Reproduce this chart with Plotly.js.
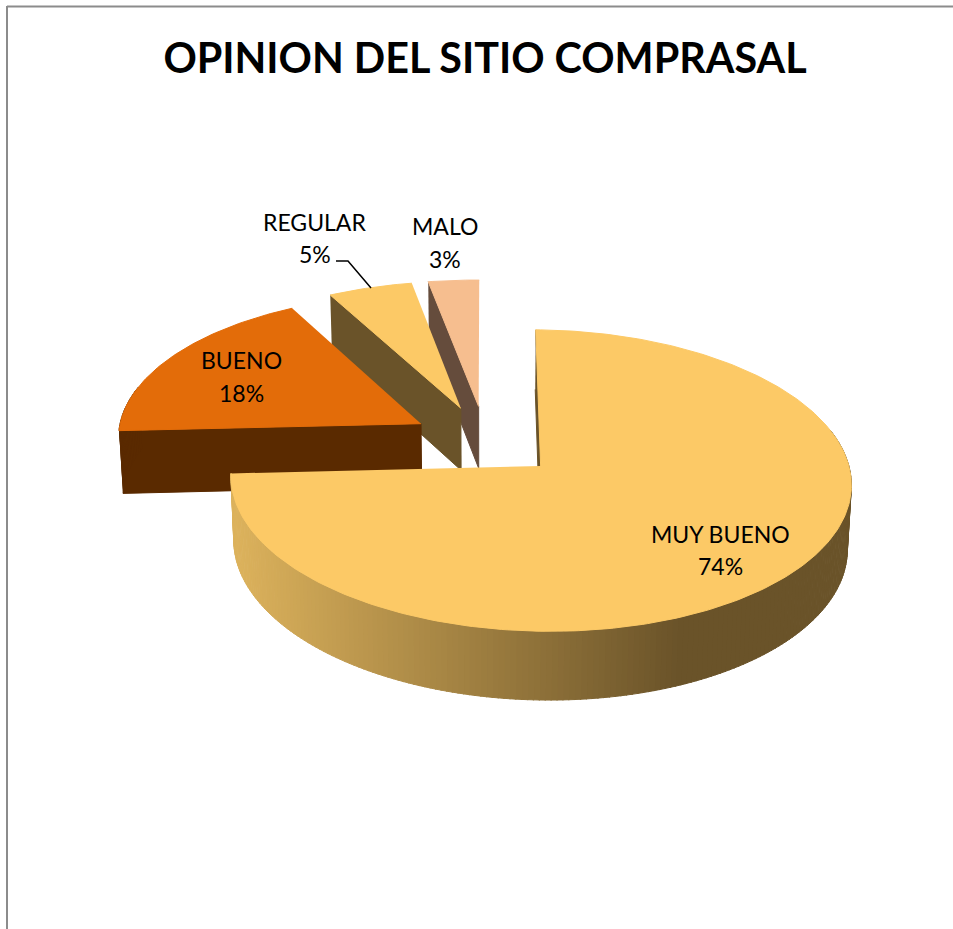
<!DOCTYPE html>
<html>
<head>
<meta charset="utf-8">
<script src="https://cdn.plot.ly/plotly-3.0.1.min.js"></script>
<style>html,body{margin:0;padding:0;background:#fff;overflow:hidden}</style>
</head>
<body>
<div id="chart" style="width:953px;height:929px"></div>
<script>
// Survey results
const categories = ["MUY BUENO", "BUENO", "REGULAR", "MALO"];
const percentages = [74, 18, 5, 3];
const chartTitle = "OPINION DEL SITIO COMPRASAL";

// Slice appearance, in the same order as the categories
const topColors = ["#FCC966", "#E36C09", "#FCC966", "#F6BE8F"];
const cutColors = ["#6A5329", "#5A2A00", "#6A5329", "#654C3C"];
const explode = 0.245;

// Perspective model of the tilted disc, in page pixels
const view = {cx: 485.5, cy: 441, rx: 303.8, ry: 144.6, depth: 63, persp: 0.095, shrink: 0.011, roll: 2};
const project = (u, v, z) => {
  const s = 1 / (1 + view.persp * v);
  const d = 1 - view.shrink * z;
  return [view.cx + view.rx * u * s * d,
          view.cy - view.ry * v * s * d + view.roll * u + view.depth * z * s];
};
const total = percentages.reduce((a, b) => a + b, 0);

// Angles run clockwise from twelve o'clock
const slices = [];
let running = 0;
percentages.forEach((p, i) => {
  const a0 = running / total * 2 * Math.PI;
  running += p;
  const a1 = running / total * 2 * Math.PI;
  const mid = (a0 + a1) / 2;
  slices.push({i, a0, a1, ou: explode * Math.sin(mid), ov: explode * Math.cos(mid)});
});

const rim = (s, a, z) => project(s.ou + Math.sin(a), s.ov + Math.cos(a), z);
const apex = (s, z) => project(s.ou, s.ov, z);

function polygon(points, color, name) {
  return {
    type: "scatter", mode: "lines", fill: "toself", fillcolor: color,
    x: points.map(p => p[0]), y: points.map(p => p[1]),
    line: {color: color, width: 1}, hoverinfo: "skip", showlegend: false, name: name
  };
}

// Side wall of the large slice fades from lit tan to shadow, left to right
function wallColor(s, x) {
  if (s.i !== 0) return cutColors[s.i];
  const t = Math.min(1, Math.max(0, (x - 235) / (680 - 235)));
  const mix = (a, b) => Math.round(a + (b - a) * t);
  return `rgb(${mix(220, 106)},${mix(178, 83)},${mix(92, 41)})`;
}

const traces = [];
function addSlice(s) {
  // flat cut face at the start of the slice
  traces.push(polygon([rim(s, s.a0, 0), apex(s, 0), apex(s, 1), rim(s, s.a0, 1)],
                      cutColors[s.i], categories[s.i] + " cara"));
  // outer wall, built from narrow strips on the side facing the viewer
  const step = 1 * Math.PI / 180;
  for (let a = s.a0; a < s.a1; a += step) {
    const b = Math.min(a + step * 1.2, s.a1);
    if (Math.cos((a + b) / 2) > 0.25) continue;
    const quad = [rim(s, a, 0), rim(s, b, 0), rim(s, b, 1), rim(s, a, 1)];
    traces.push(polygon(quad, wallColor(s, (quad[0][0] + quad[1][0]) / 2),
                        categories[s.i] + " borde"));
  }
  // top face
  const top = [apex(s, 0)];
  const n = Math.max(8, Math.ceil((s.a1 - s.a0) / (Math.PI / 180)));
  for (let k = 0; k <= n; k++) top.push(rim(s, s.a0 + (s.a1 - s.a0) * k / n, 0));
  traces.push(polygon(top, topColors[s.i], categories[s.i]));
}
// Back slices first so the nearer ones overlap them
[3, 2, 1, 0].forEach(i => addSlice(slices[i]));

// Leader from the REGULAR label to its slice
traces.push({
  type: "scatter", mode: "lines",
  x: [336, 348, 371], y: [261, 261, 288],
  line: {color: "#000", width: 1.5}, hoverinfo: "skip", showlegend: false
});

// Data labels: category on one line, percentage on the next
const nameCentres = [[720.5, 534], [241, 360], [314.5, 222], [445, 226]];
const valueCentres = [[720.5, 566], [241, 393], [314.5, 254], [445, 259]];
const labelFont = {family: "Lato, Carlito, sans-serif", size: 23, color: "#000"};
const makeLabel = (text, pos) => ({
  text: text, x: pos[0], y: pos[1], xref: "x", yref: "y",
  xanchor: "center", yanchor: "middle", showarrow: false, font: labelFont
});
const annotations = categories.flatMap((c, i) => [
  makeLabel(c, nameCentres[i]),
  makeLabel(percentages[i] + "%", valueCentres[i])
]);

const border = {color: "#8c8c8c", width: 2};
const layout = {
  width: 953, height: 929,
  margin: {l: 0, r: 0, t: 0, b: 0},
  paper_bgcolor: "#fff", plot_bgcolor: "#fff",
  showlegend: false,
  title: {
    text: "<b>" + chartTitle + "</b>",
    x: 485 / 953, y: 1 - 59 / 929, xanchor: "center", yanchor: "middle",
    font: {family: "Lato, Carlito, sans-serif", size: 41.3, color: "#000"}
  },
  xaxis: {range: [0, 953], visible: false, fixedrange: true},
  yaxis: {range: [929, 0], visible: false, fixedrange: true},
  annotations: annotations,
  shapes: [
    {type: "line", xref: "x", yref: "y", x0: 7, y0: 6.5, x1: 953, y1: 6.5, line: border},
    {type: "line", xref: "x", yref: "y", x0: 7, y0: 6, x1: 7, y1: 929, line: border}
  ]
};
Plotly.newPlot("chart", traces, layout, {displayModeBar: false, staticPlot: true});
</script>
</body>
</html>
